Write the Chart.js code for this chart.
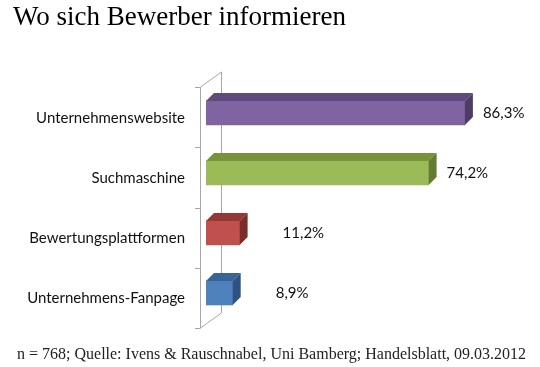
<!DOCTYPE html>
<html>
<head>
<meta charset="utf-8">
<script src="https://cdn.jsdelivr.net/npm/chart.js@4"></script>
<style>
  html, body { margin: 0; padding: 0; background: #fff; }
  #wrap { position: relative; width: 540px; height: 367px; overflow: hidden; }
  #chartBox { position: absolute; left: 0; top: 0; width: 540px; height: 367px; }
  #title { position: absolute; left: 13px; top: -1px; font-family: "Liberation Serif", serif; font-size: 27px; color: #000; white-space: nowrap; line-height: 34px; }
  #note { position: absolute; left: 17px; top: 344px; font-family: "Liberation Serif", serif; font-size: 16px; color: #222; white-space: nowrap; line-height: 20px; }
</style>
</head>
<body>
<div id="wrap">
  <div id="chartBox"><canvas id="c"></canvas></div>
  <div id="title">Wo sich Bewerber informieren</div>
  <div id="note">n = 768; Quelle: Ivens &amp; Rauschnabel, Uni Bamberg; Handelsblatt, 09.03.2012</div>
</div>
<script>
// ---- data ----
const categories = ["Unternehmenswebsite", "Suchmaschine", "Bewertungsplattformen", "Unternehmens-Fanpage"];
const values = [86.3, 74.2, 11.2, 8.9];
const valueLabels = ["86,3%", "74,2%", "11,2%", "8,9%"];

// ---- styles ----
const frontColors = ["#8064A2", "#9BBB59", "#C0504D", "#4F81BD"];
const topColors   = ["#604A7B", "#77933C", "#953735", "#3A6498"];
const sideColors  = ["#4E3C66", "#637B32", "#7A2D2B", "#2F5380"];
const labelFont = '15px Lato, "Open Sans", sans-serif';
const DEPTH_X = 8, DEPTH_Y = 8;

const wallPlugin = {
  id: 'wall',
  beforeDatasetsDraw(chart) {
    const {ctx, chartArea} = chart;
    const fx = chartArea.left - 6, bx = chartArea.left + 15;
    const fTop = chartArea.top + 4, fBot = chartArea.bottom + 5;
    const shift = 15;
    ctx.save();
    ctx.strokeStyle = '#A6A6A6';
    ctx.lineWidth = 1;
    ctx.beginPath();
    ctx.moveTo(fx + 0.5, fTop); ctx.lineTo(fx + 0.5, fBot);
    ctx.moveTo(fx + 0.5, fTop); ctx.lineTo(bx + 0.5, fTop - shift);
    ctx.lineTo(bx + 0.5, fBot - shift);
    ctx.moveTo(fx + 0.5, fBot); ctx.lineTo(bx + 0.5, fBot - shift);
    const n = categories.length;
    for (let k = 0; k <= n; k++) {
      const y = Math.round(fTop + k * (fBot - fTop) / n) + 0.5;
      ctx.moveTo(fx - 5, y); ctx.lineTo(fx + 0.5, y);
    }
    ctx.stroke();
    ctx.restore();
  }
};

const bar3dPlugin = {
  id: 'bar3d',
  afterDatasetsDraw(chart) {
    const {ctx} = chart;
    const meta = chart.getDatasetMeta(0);
    ctx.save();
    meta.data.forEach((el, i) => {
      const p = el.getProps(['x', 'y', 'base', 'height'], true);
      const top = p.y - p.height / 2, bot = p.y + p.height / 2;
      // top face
      ctx.fillStyle = topColors[i];
      ctx.beginPath();
      ctx.moveTo(p.base, top);
      ctx.lineTo(p.base + DEPTH_X, top - DEPTH_Y);
      ctx.lineTo(p.x + DEPTH_X, top - DEPTH_Y);
      ctx.lineTo(p.x, top);
      ctx.closePath();
      ctx.fill();
      // side face
      ctx.fillStyle = sideColors[i];
      ctx.beginPath();
      ctx.moveTo(p.x, top);
      ctx.lineTo(p.x + DEPTH_X, top - DEPTH_Y);
      ctx.lineTo(p.x + DEPTH_X, bot - DEPTH_Y);
      ctx.lineTo(p.x, bot);
      ctx.closePath();
      ctx.fill();
      // value label
      ctx.fillStyle = '#111';
      ctx.font = labelFont;
      ctx.textAlign = 'left';
      ctx.textBaseline = 'middle';
      const gap = values[i] > 50 ? 18 : 43;
      ctx.fillText(valueLabels[i], p.x + gap, p.y);
    });
    ctx.restore();
  }
};

new Chart(document.getElementById('c'), {
  type: 'bar',
  data: {
    labels: categories,
    datasets: [{
      data: values,
      backgroundColor: frontColors,
      borderWidth: 0,
      barThickness: 24
    }]
  },
  options: {
    indexAxis: 'y',
    responsive: true,
    maintainAspectRatio: false,
    animation: false,
    events: [],
    layout: { padding: { left: 0, right: 34, top: 83, bottom: 44 } },
    plugins: { legend: { display: false }, tooltip: { enabled: false }, title: { display: false } },
    scales: {
      x: { display: false, min: 0, max: 100 },
      y: {
        grid: { display: false, drawTicks: false },
        border: { display: false },
        ticks: {
          color: '#111',
          font: { family: 'Lato, "Open Sans", sans-serif', size: 15 },
          padding: 21,
          labelOffset: 5
        },
        afterFit(scale) { scale.width = 206; }
      }
    }
  },
  plugins: [wallPlugin, bar3dPlugin]
});
</script>
</body>
</html>
